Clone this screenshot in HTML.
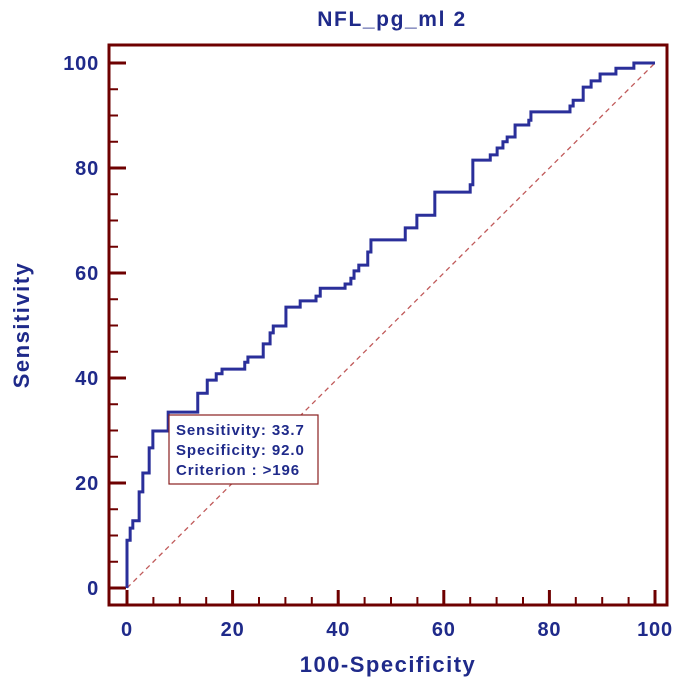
<!DOCTYPE html>
<html><head><meta charset="utf-8">
<style>
body{margin:0;background:#fff;}
svg{display:block;font-family:"Liberation Sans",sans-serif;}
</style></head>
<body>
<svg id="chart" width="684" height="689" viewBox="0 0 684 689">
<text x="392" y="26" text-anchor="middle" font-size="21" font-weight="bold" letter-spacing="1.6" fill="#1f2a8a">NFL_pg_ml 2</text>
<rect x="109" y="45" width="558" height="560" fill="none" stroke="#6e0000" stroke-width="3"/>
<g id="ticks"></g>
<line id="diag" stroke="#c05a5a" stroke-width="1.3" stroke-dasharray="5,4"/>
<path id="roc" fill="none" stroke="#2a2f9a" stroke-width="3"/>
<g>
<rect x="169" y="415" width="149" height="69" fill="#fff" stroke="#8a2020" stroke-width="1.2"/>
<text x="176" y="435" font-size="15" font-weight="bold" letter-spacing="0.9" fill="#1f2a8a">Sensitivity: 33.7</text>
<text x="176" y="455" font-size="15" font-weight="bold" letter-spacing="0.9" fill="#1f2a8a">Specificity: 92.0</text>
<text x="176" y="475" font-size="15" font-weight="bold" letter-spacing="0.9" fill="#1f2a8a">Criterion : &gt;196</text>
</g>
<text x="388" y="672" text-anchor="middle" font-size="22" font-weight="bold" letter-spacing="1.5" fill="#1f2a8a">100-Specificity</text>
<text transform="translate(29,325) rotate(-90)" text-anchor="middle" font-size="22" font-weight="bold" letter-spacing="1.5" fill="#1f2a8a">Sensitivity</text>
</svg>
<script>
const fpr=[0,0.6,1.1,2.3,3.0,4.2,4.9,7.8,13.4,15.2,16.9,18.0,22.3,22.9,25.8,27.1,27.7,30.1,32.8,35.8,36.6,41.3,42.4,43.0,43.9,45.6,46.2,52.7,54.9,58.3,65.0,65.5,68.8,70.1,71.2,72.0,73.5,76.1,76.5,83.9,84.5,86.4,87.9,89.6,92.6,96.0];
const sens=[9.1,11.4,12.8,18.3,21.9,26.7,29.9,33.5,37.1,39.6,40.8,41.7,43.0,44.0,46.5,48.6,49.9,53.5,54.7,55.6,57.1,57.9,59.0,60.4,61.5,64.0,66.3,68.6,71.0,75.4,76.8,81.5,82.5,83.8,85.0,85.9,88.2,89.1,90.7,91.8,92.9,95.4,96.6,97.9,99.0,100];
const tickLabels=[0,20,40,60,80,100];
const X=v=>127+v*5.28, Y=v=>588-v*5.25;
const NS="http://www.w3.org/2000/svg";
let d="M"+X(0)+","+Y(0);
for(let i=0;i<fpr.length;i++){d+=" H"+X(fpr[i])+" V"+Y(sens[i]);}
d+=" H"+X(100);
document.getElementById('roc').setAttribute('d',d);
const dg=document.getElementById('diag');
dg.setAttribute('x1',X(0));dg.setAttribute('y1',Y(0));dg.setAttribute('x2',X(100));dg.setAttribute('y2',Y(100));
const g=document.getElementById('ticks');
for(let v=0;v<=100;v+=5){
  const major=v%20===0;
  const l=document.createElementNS(NS,'line');
  
  
  l.setAttribute('x1',110);l.setAttribute('x2',major?126:118);l.setAttribute('y1',Y(v));l.setAttribute('y2',Y(v));
  l.setAttribute('stroke','#6e0000');l.setAttribute('stroke-width',major?3:2);g.appendChild(l);
  const m=document.createElementNS(NS,'line');
  
  
  m.setAttribute('x1',X(v));m.setAttribute('x2',X(v));m.setAttribute('y1',604);m.setAttribute('y2',major?590:597);
  m.setAttribute('stroke','#6e0000');m.setAttribute('stroke-width',major?3:2);g.appendChild(m);
}
tickLabels.forEach(v=>{
  const t=document.createElementNS(NS,'text');
  
  
  t.setAttribute('x',99);t.setAttribute('y',Y(v)+7);t.setAttribute('text-anchor','end');
  t.setAttribute('font-size','20');t.setAttribute('font-weight','bold');t.setAttribute('letter-spacing','0.8');t.setAttribute('fill','#1f2a8a');
  t.textContent=v;g.appendChild(t);
  const u=document.createElementNS(NS,'text');
  
  
  u.setAttribute('x',X(v));u.setAttribute('y',636);u.setAttribute('text-anchor','middle');
  u.setAttribute('font-size','20');u.setAttribute('font-weight','bold');u.setAttribute('letter-spacing','0.8');u.setAttribute('fill','#1f2a8a');
  u.textContent=v;g.appendChild(u);
});
</script>
</body></html>
